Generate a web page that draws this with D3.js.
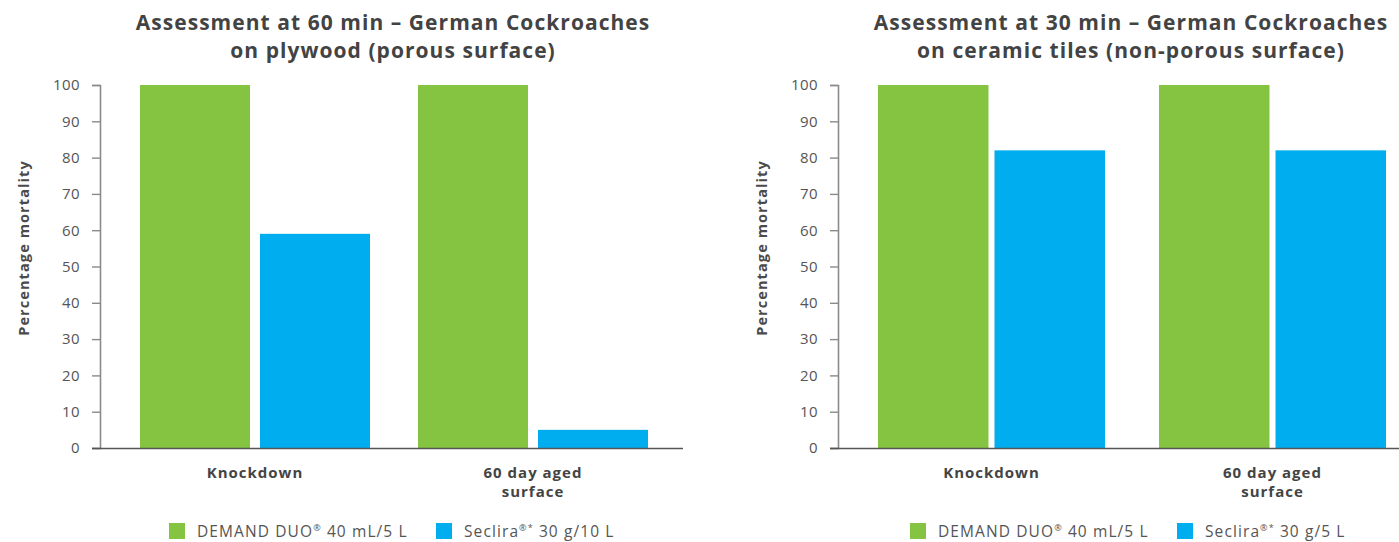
<!DOCTYPE html>
<html>
<head>
<meta charset="utf-8">
<script src="https://cdn.jsdelivr.net/npm/d3@7"></script>
<style>
  body { margin: 0; background: #fff; }
  svg { display: block; font-family: "Open Sans", "DejaVu Sans", sans-serif; }
</style>
</head>
<body>
<svg id="chart" width="1399" height="542"></svg>
<script>
// data
const categories = ["Knockdown", "60 day aged surface"];
const categoryLines = [["Knockdown"], ["60 day aged", "surface"]];
const series = ["demand", "seclira"];
const plywoodDemand = [100, 100];
const plywoodSeclira = [59, 5];
const tilesDemand = [100, 100];
const tilesSeclira = [82, 82];
const yTicks = [0, 10, 20, 30, 40, 50, 60, 70, 80, 90, 100];
const titlesPlywood = ["Assessment at 60 min \u2013 German Cockroaches", "on plywood (porous surface)"];
const titlesTiles = ["Assessment at 30 min \u2013 German Cockroaches", "on ceramic tiles (non-porous surface)"];
const legendPlywood = [["DEMAND DUO", "\u00ae", " 40 mL/5 L"], ["Seclira", "\u00ae*", " 30 g/10 L"]];
const legendTiles = [["DEMAND DUO", "\u00ae", " 40 mL/5 L"], ["Seclira", "\u00ae*", " 30 g/5 L"]];

const colors = {demand: "#84c441", seclira: "#00aeef"};
const svg = d3.select("#chart");

const y = d3.scaleLinear().domain([0, 100]).range([448, 85]);

function drawChart(opts) {
    const g = svg.append("g");

    // title
    const title = g.append("text")
        .attr("text-anchor", "middle")
        .attr("font-weight", "bold")
        .attr("font-size", "21px")
        .attr("letter-spacing", "1.05px")
        .attr("fill", "#434343");
    opts.titles.forEach((t, i) => {
        title.append("tspan")
            .attr("x", opts.titleX)
            .attr("y", 30 + i * 28)
            .text(t);
    });

    const x = d3.scaleBand()
        .domain(categories)
        .range([opts.axisX, opts.axisX + opts.step * (2 - opts.pIn + 2 * opts.pOut)])
        .paddingInner(opts.pIn)
        .paddingOuter(opts.pOut);

    const xs = d3.scaleBand()
        .domain(series)
        .range([0, x.bandwidth()])
        .paddingInner(opts.gap);

    // y axis
    const yAxis = g.append("g")
        .attr("transform", `translate(${opts.axisX},0)`)
        .call(d3.axisLeft(y).tickValues(yTicks).tickSize(8).tickPadding(12));
    yAxis.select(".domain").attr("stroke", "#8a8a8a").attr("stroke-width", 1.6);
    yAxis.selectAll(".tick line").attr("stroke", "#8a8a8a").attr("stroke-width", 1.4);
    yAxis.selectAll(".tick text")
        .attr("font-size", "15px")
        .attr("letter-spacing", "0.4px")
        .attr("fill", "#555")
        .attr("font-family", "'Open Sans', sans-serif");

    g.append("text")
        .attr("transform", `translate(${opts.axisX - 71},248) rotate(-90)`)
        .attr("text-anchor", "middle")
        .attr("font-weight", "bold")
        .attr("font-size", "14.5px")
        .attr("letter-spacing", "1.1px")
        .attr("fill", "#4a4a4a")
        .text("Percentage mortality");

    // bars
    const rows = categories.map((c, i) => ({cat: c, demand: opts.demand[i], seclira: opts.seclira[i]}));
    const groups = g.selectAll(".grp")
        .data(rows)
        .enter()
        .append("g")
        .attr("class", "grp")
        .attr("transform", d => `translate(${x(d.cat)},0)`);
    groups.selectAll("rect")
        .data(d => series.map(s => ({s: s, v: d[s]})))
        .enter()
        .append("rect")
        .attr("x", d => xs(d.s))
        .attr("width", xs.bandwidth())
        .attr("y", d => y(d.v))
        .attr("height", d => y(0) - y(d.v))
        .attr("fill", d => colors[d.s]);

    // x axis line
    g.append("line")
        .attr("x1", opts.axisX - 8)
        .attr("x2", opts.axisEnd)
        .attr("y1", y(0) + 0.5)
        .attr("y2", y(0) + 0.5)
        .attr("stroke", "#555")
        .attr("stroke-width", 1.5);

    // category labels
    categories.forEach((c, i) => {
        const t = g.append("text")
            .attr("text-anchor", "middle")
            .attr("font-weight", "bold")
            .attr("font-size", "15px")
            .attr("letter-spacing", "1px")
            .attr("fill", "#444");
        categoryLines[i].forEach((line, j) => {
            t.append("tspan")
                .attr("x", x(c) + x.bandwidth() / 2)
                .attr("y", 478 + j * 19)
                .text(line);
        });
    });

    // legend
    opts.legend.forEach((item, i) => {
        const lx = opts.legendX[i];
        g.append("rect")
            .attr("x", lx)
            .attr("y", 523)
            .attr("width", 16)
            .attr("height", 16)
            .attr("fill", colors[series[i]]);
        const t = g.append("text")
            .attr("x", lx + 28)
            .attr("y", 537)
            .attr("font-size", "15.5px")
            .attr("letter-spacing", "1.1px")
            .attr("fill", "#555");
        t.append("tspan").text(item[0]);
        t.append("tspan").attr("font-size", "9px").attr("dy", -6).text(item[1]);
        t.append("tspan").attr("dy", 6).text(item[2]);
    });
}

drawChart({
    titles: titlesPlywood, titleX: 393,
    axisX: 100, axisEnd: 683, step: 278, pIn: 48 / 278, pOut: 40 / 278, gap: 10 / 120,
    demand: plywoodDemand, seclira: plywoodSeclira,
    legend: legendPlywood, legendX: [169, 436]
});

drawChart({
    titles: titlesTiles, titleX: 1131,
    axisX: 838, axisEnd: 1399, step: 281, pIn: 54 / 281, pOut: 40 / 281, gap: 6 / 116,
    demand: tilesDemand, seclira: tilesSeclira,
    legend: legendTiles, legendX: [910, 1177]
});
</script>
</body>
</html>
